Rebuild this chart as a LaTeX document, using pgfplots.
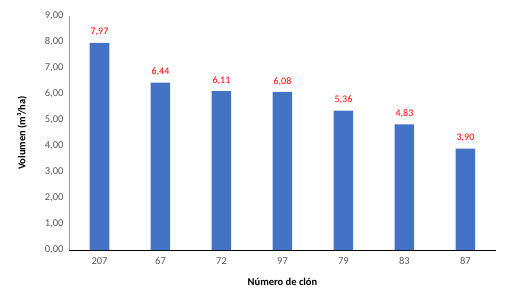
\documentclass[border=0pt]{standalone}
\usepackage{pgfplots}
\pgfplotsset{compat=1.18}
\usepackage{fontspec}
\setmainfont{Carlito}
\definecolor{barblue}{HTML}{4472C4}
\definecolor{lblred}{HTML}{FF0000}
\definecolor{tickgray}{HTML}{595959}
\begin{document}
\begin{tikzpicture}[x=1pt,y=1pt]
\path (0,0) rectangle (508,292);
\begin{axis}[
  at={(69pt,42pt)}, anchor=south west,
  scale only axis, width=427pt, height=234pt,
  xmin=-0.5, xmax=6.5, ymin=0, ymax=9,
  xtick={0,...,6},
  xticklabels={207,67,72,97,79,83,87},
  ytick={0,1,...,9},
  axis x line*=bottom, axis y line*=left,
  x axis line style={black, line width=0.8pt, -},
  y axis line style={gray!80, line width=0.8pt, -},
  major tick length=0pt,
  /pgf/number format/assume math mode=true,
  /pgf/number format/.cd, fixed, fixed zerofill, precision=2, use comma,
  /pgfplots/.cd,
  ticklabel style={font=\fontsize{10.5}{12}\selectfont, text=tickgray},
  yticklabel style={xshift=-2pt},
  xticklabel style={yshift=-4pt},
  ylabel={\textbf{Volumen (m³/ha)}},
  xlabel={\textbf{Número de clón}},
  ylabel style={at={(axis description cs:-0.11,0.5)}, anchor=center, rotate=0, font=\fontsize{10.5}{12}\selectfont},
  xlabel style={at={(axis description cs:0.5,-0.137)}, anchor=center, font=\fontsize{10.5}{12}\selectfont},
  ybar, bar width=19.5pt,
  nodes near coords,
  every node near coord/.append style={font=\fontsize{10}{12}\selectfont, text=lblred, yshift=3pt},
]
\addplot[fill=barblue, draw=none] coordinates {
(0,7.97) (1,6.44) (2,6.11) (3,6.08) (4,5.36) (5,4.83) (6,3.90)};
\end{axis}
\end{tikzpicture}
\end{document}
